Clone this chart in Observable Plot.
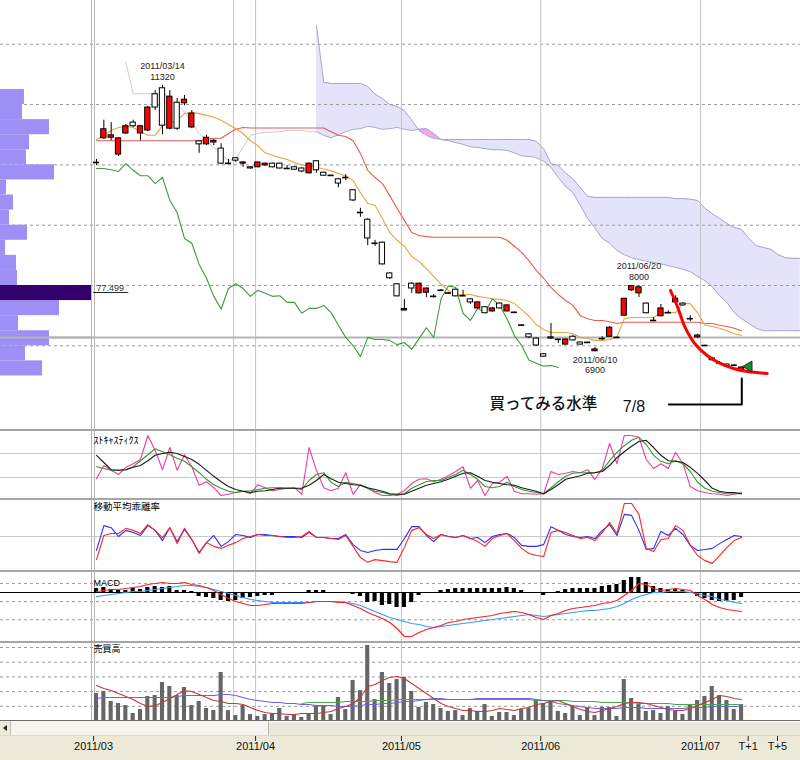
<!DOCTYPE html>
<html><head><meta charset="utf-8">
<script src="https://cdn.jsdelivr.net/npm/d3@7"></script>
<script src="https://cdn.jsdelivr.net/npm/@observablehq/plot@0.6"></script>
<style>
body{margin:0;background:#fff;}
#wrap{position:relative;width:800px;height:760px;overflow:hidden;background:#fff;}
.blk{position:absolute;left:0;}
</style></head><body><div id="wrap"></div>
<script>
// ---------- candles (daily, 2011/03/01 .. 2011/07/08) ----------
const opens = [10040,10440,10450,10170,10520,10700,10520,10570,11170,11270,
10600,11030,11020,10620,10390,10340,10370,10270,10030,10110,
10020,9960,9960,9990,10020,10020,9940,9960,9940,9860,
10060,9870,9830,9760,9790,9580,9210,9090,8700,8710,
8200,8020,7585,8030,7870,7880,7820,7920,7880,7930,
7830,7770,7620,7640,7570,7700,7570,7560,7345,7190,
7120,6860,7120,7110,7020,7150,7055,7058,6910,7120,
7150,7140,7500,7920,7870,7700,7420,7490,7550,7720,
7700,7450,7140,7005,6790,6720,6690,6680,6590];
const highs = [10090,10740,10700,10450,10670,10740,10650,10970,11230,11320,
11230,11100,11150,10900,10400,10490,10420,10350,10090,10120,
10050,9970,10050,10030,10030,10030,9990,9970,9950,10030,
10070,9880,9830,9770,9840,9590,9280,9110,8750,8720,
8210,8030,7770,8050,8040,7960,7850,7935,7885,7940,
7920,7785,7725,7645,7630,7710,7680,7560,7345,7200,
7130,6870,7370,7110,7110,7170,7060,7060,6970,7150,
7320,7145,7790,7995,8000,7710,7470,7685,7580,7830,
7715,7500,7190,7010,6810,6740,6700,6690,6650];
const lows = [9990,10420,10400,10140,10500,10620,10400,10550,10900,10500,
10580,10570,10980,10600,10190,10320,10320,10010,10020,10040,
9960,9930,9950,9980,9950,9930,9930,9910,9870,9850,
9860,9810,9810,9620,9740,9390,9130,8660,8650,8340,
8100,7810,7585,7870,7860,7800,7790,7900,7850,7810,
7830,7685,7610,7530,7560,7610,7560,7545,7330,7120,
6995,6810,7110,7040,7015,7080,7015,7050,6900,7095,
7140,7130,7495,7900,7800,7530,7400,7480,7530,7710,
7660,7400,7120,7000,6750,6700,6650,6670,6585];
const closes = [10040,10590,10490,10440,10640,10640,10640,10950,10950,10650,
11130,10600,11080,10850,10340,10450,10400,10020,10020,10070,
10040,9940,10040,10020,9960,9940,9940,9920,9890,10020,
9910,9820,9820,9690,9790,9410,9210,8780,8700,8350,
8120,7820,7610,7950,8030,7950,7820,7920,7870,7820,
7830,7720,7720,7540,7620,7620,7670,7550,7340,7140,
7005,6820,7140,7105,7105,7090,7020,7055,6940,7120,
7300,7138,7780,7990,7970,7540,7420,7620,7550,7780,
7670,7450,7170,7005,6760,6710,6660,6675,6640];

// ---------- ichimoku ----------
const tenkan = [10420,10490,10570,10620,10640,10620,10550,10490,10490,10650,
10690,10740,10850,10870,10850,10820,10790,10740,10670,10600,
10520,10400,10320,10200,10160,10120,10090,10040,10000,9980,
9960,9930,9900,9860,9810,9740,9540,9360,9330,9110,
8880,8750,8650,8480,8400,8280,8150,8020,7920,7850,
7850,7850,7820,7800,7780,7770,7750,7700,7600,7490,
7350,7270,7220,7220,7220,7200,7140,7120,7090,7090,
7100,7150,7450,7470,7470,7470,7470,7550,7550,7550,
7700,7700,7550,7340,7320,7290,7250,7200,7170];
const kijun = [10400,10400,10400,10400,10400,10400,10400,10400,10400,10400,
10400,10400,10400,10400,10400,10420,10440,10440,10520,10590,
10620,10610,10610,10610,10610,10610,10610,10610,10610,10610,
10610,10610,10550,10490,10470,10400,10190,9910,9790,9690,
9490,9280,9080,8880,8830,8810,8800,8800,8800,8800,
8800,8800,8800,8800,8800,8800,8750,8650,8550,8410,
8250,8120,7970,7850,7750,7670,7500,7450,7420,7420,
7400,7370,7390,7390,7390,7390,7390,7390,7390,7390,
7390,7390,7390,7370,7370,7340,7320,7290,7250];
// chikou span, index 0..63
const chikou = [9940,9940,9920,9890,10020,9910,9820,9820,9690,9790,
9410,9210,8780,8700,8350,8120,7820,7610,7950,8030,
7950,7820,7920,7870,7820,7830,7720,7720,7540,7620,
7620,7670,7550,7340,7140,7005,6820,7140,7105,7105,
7090,7020,7055,6940,7120,7300,7138,7780,7990,7970,
7540,7420,7620,7550,7780,7670,7450,7170,7005,6760,
6710,6660,6675,6640];
// senkou span A, index 4..96
const spanA = [11700,11180,11180,11180,11180,11180,11130,11000,10870,10700,
10520,10400,10290,10190,10070,10110,10290,10490,10520,10540,
10540,10550,10570,10570,10570,10550,
10550,10490,10450,10500,10550,10590,10600,10640,10620,10590,
10600,10620,10590,10570,10590,10600,10520,10420,10400,10370,
10340,10300,10290,10270,10250,10250,10240,10200,10150,10140,
10120,10060,9960,9790,9640,9540,9330,9110,8950,8780,
8700,8580,8510,8460,8430,8400,8380,8360,8330,8300,
8270,8230,8150,8080,7980,7830,7720,7550,7450,7370,
7290,7250,7250,7250,7250,7250,7250];
// senkou span B, index 30..96
const spanB = [12310,11370,11350,11350,11350,11350,11350,11300,11170,11100,
11000,10970,10900,10740,10570,10490,10440,10420,10420,10420,
10420,10420,10420,10420,10420,10420,10420,10420,10420,10420,
10390,10270,10020,9990,9860,9770,9620,9480,9460,9460,
9460,9460,9460,9460,9460,9460,9460,9460,9460,9440,
9440,9430,9410,9280,9190,9110,9030,8960,8930,8780,
8660,8630,8600,8510,8460,8450,8450];

// ---------- price-by-volume (left) ----------
const profileLow = [11000,10750,10500,10250,10000,9750,9500,9250,9000,8750,8500,8250,8000,7750,7500,7250,7000,6750,6500];
const profileVol = [20.4,18.7,41.7,24.7,22.1,46.0,5.1,11.1,7.7,23.0,4.3,13.6,14.5,77.499,50.2,15.3,41.7,21.3,35.8];
const profileBin = 250;

// ---------- stochastics ----------
const stochK = [28,50,42,35,47,53,60,100,75,43,
80,42,68,48,17,23,13,0,2,5,
7,3,18,13,8,10,12,13,2,80,
42,13,8,12,38,2,18,12,5,0,
0,2,8,20,27,28,23,27,33,40,
48,12,25,0,20,22,32,7,3,3,
2,3,40,35,37,40,38,43,27,45,
87,53,100,100,97,60,45,53,45,72,
53,15,8,5,3,2,0,2,5];
const stochD = [48,45,42,42,43,48,58,68,78,73,
68,62,57,48,38,27,18,12,7,5,
7,8,10,12,13,13,12,12,10,25,
35,38,22,15,22,20,17,12,7,5,
2,0,3,12,18,23,25,25,30,35,
42,35,27,15,13,15,22,15,10,7,
5,3,13,23,32,37,38,38,38,42,
58,72,83,92,97,85,67,57,53,58,
53,40,22,12,7,5,3,3,3];
const stochSD = [67,55,43,42,43,47,50,58,67,70,
72,70,65,60,52,42,32,23,15,10,
7,5,7,8,10,12,12,12,12,17,
25,35,28,22,20,18,17,13,10,7,
3,2,2,7,12,17,20,23,27,32,
37,38,32,25,22,20,18,17,13,10,
7,3,10,18,27,30,33,37,38,40,
50,63,73,82,90,92,80,67,58,57,
55,47,37,25,12,7,5,5,3];

// ---------- moving-average deviation (%) ----------
const devShort = [-4.1,3.2,2.6,0,1.8,1.2,0.3,3.2,1.8,-1.2,
2.6,-1.5,2.1,-0.9,-4.7,-1.8,0.3,-2.9,-1.5,0.6,
0.3,-0.3,0.6,0.6,0.3,0,0,0,-0.3,1.2,
-0.3,-0.3,-0.6,-0.6,0.6,-2.4,-4.1,-4.7,-4.1,-3.8,
-3.8,-3.8,-0.6,2.9,2.9,0.3,-1.5,0.6,0,-0.3,
0.3,-0.6,-0.3,-1.8,0,0.6,0.9,-0.3,-2.6,-2.9,
-2.9,-2.4,2.9,1.8,0.6,0,-0.3,0,-0.6,1.8,
3.5,0.3,6.5,6.2,1.8,-3.8,-3.5,1.5,0.3,2.4,
0.6,-2.6,-4.1,-3.8,-3.5,-2.1,-0.9,0.3,0];
const devLong = [-6.8,0.3,0.9,0.9,2.4,1.8,0.9,3.5,1.8,-0.3,
2.6,-2.1,2.4,-0.9,-5.0,-1.8,-2.9,-3.5,-2.6,-1.8,
-0.6,0,0.6,0.3,0.3,0,-0.3,-0.3,0,1.5,
-0.3,-0.3,-0.6,-0.9,0.3,-2.9,-6.2,-7.6,-6.8,-7.1,
-7.4,-7.6,-3.2,1.8,2.6,0.6,-0.6,0.6,0,-0.3,
0.3,-0.6,-1.5,-2.9,-0.6,0.3,0.9,-1.2,-3.5,-5.0,
-5.6,-5.9,1.2,1.8,1.2,0.3,-0.6,-0.3,-1.2,1.2,
4.1,0.9,9.7,9.7,6.5,-3.5,-4.4,-0.9,-0.6,3.2,
1.8,-2.6,-5.6,-7.1,-7.9,-5.6,-3.2,-1.2,-0.3];

// ---------- MACD ----------
const macdLine = [11,22,33,33,44,55,66,88,99,110,
99,99,110,88,77,55,22,-22,-66,-99,
-121,-143,-143,-132,-121,-121,-121,-121,-121,-110,
-99,-99,-99,-110,-110,-143,-176,-220,-253,-286,
-330,-396,-484,-484,-440,-407,-385,-363,-330,-319,
-297,-286,-275,-264,-253,-231,-220,-209,-220,-242,
-275,-297,-253,-231,-198,-176,-165,-154,-143,-121,
-110,-88,-33,22,99,88,44,22,33,44,
33,22,-33,-77,-132,-165,-187,-198,-209];
const macdSignal = [-44,-33,-22,-11,0,11,11,22,33,44,
55,66,77,77,66,55,33,11,-11,-33,
-55,-77,-88,-99,-110,-110,-110,-110,-110,-110,
-99,-99,-99,-99,-110,-121,-143,-176,-209,-242,
-275,-297,-319,-341,-352,-374,-385,-374,-363,-352,
-341,-330,-319,-308,-297,-286,-275,-264,-253,-242,
-253,-264,-253,-242,-231,-220,-209,-198,-198,-187,
-176,-154,-121,-77,-44,-22,0,0,11,11,
11,0,-11,-33,-44,-77,-88,-110,-121];
const macdHist = [44,55,33,22,22,44,33,55,66,55,
66,22,22,11,-44,-55,-66,-88,-99,-88,
-66,-55,-44,-33,-33,-11,0,0,0,22,
22,22,0,0,0,-22,-44,-110,-99,-143,
-132,-165,-165,-110,-33,-11,0,22,33,44,
44,44,44,44,44,44,55,44,22,0,
-11,-33,0,11,33,44,44,44,44,66,
77,88,132,165,165,110,66,44,33,33,
22,-11,-44,-66,-88,-99,-99,-88,-55];

// ---------- volume ----------
const volume = [18.7,20.1,13.3,11.9,10.5,5.1,7.8,16.7,17.3,26.2,
23.5,17.3,22.8,10.5,13.3,8.5,7.1,33.0,7.1,3.7,
10.5,4.4,3.1,4.4,5.1,8.5,3.1,4.4,2.4,5.1,
10.5,10.5,4.4,16.0,7.8,27.6,20.7,51.4,14.6,33.0,
25.5,28.2,29.6,20.1,9.2,12.6,11.2,8.5,6.5,7.1,
3.7,8.5,6.5,11.2,3.1,5.8,5.8,3.7,7.8,8.5,
14.6,11.9,13.9,6.5,5.1,9.8,3.7,9.2,3.7,9.2,
9.2,3.1,28.2,15.3,11.2,6.5,7.1,5.1,9.8,6.5,
4.4,11.2,13.9,16.7,23.5,17.3,13.9,7.8,11.2];
const volMAshort = [24.1,22.1,20.7,18.7,16.7,14.6,11.9,9.9,10.5,12.6,
15.3,18.0,20.7,20.1,18.0,16.0,13.9,13.3,11.9,11.9,
11.2,9.2,7.1,5.8,5.1,5.1,4.4,4.4,5.1,5.1,
5.1,5.8,6.5,8.5,9.9,11.9,16.0,23.5,24.8,27.6,
29.6,30.3,28.9,25.5,22.1,18.7,15.3,11.9,9.9,8.5,
7.1,7.1,6.5,6.5,7.1,8.5,7.8,7.1,8.5,9.2,
11.2,11.9,13.3,13.9,11.9,9.9,7.8,6.5,5.8,7.1,
8.5,9.9,11.9,12.6,12.6,11.9,10.5,9.2,7.8,7.1,
7.1,8.5,10.5,12.6,14.6,17.3,16.7,15.3,14.6];
const volMAmid = [15.3,16.0,16.0,16.0,16.0,16.0,16.0,16.0,16.0,16.0,
16.0,16.7,17.3,17.3,17.3,17.3,17.3,18.0,18.0,17.3,
16.0,14.6,13.9,13.3,12.6,12.6,11.9,11.9,11.2,11.2,
10.5,10.5,10.5,9.9,9.9,9.9,10.5,11.2,11.2,11.9,
11.9,12.6,13.3,13.3,13.9,14.6,15.3,15.3,14.6,14.6,
14.6,14.6,15.3,15.3,15.3,15.3,15.3,15.3,15.3,15.3,
14.6,13.9,13.3,11.9,11.2,10.5,9.9,9.2,8.5,8.5,
8.5,8.5,9.2,9.2,9.2,8.5,8.5,8.5,8.5,8.5,
8.5,9.2,9.2,9.2,9.9,9.9,9.9,9.9,9.9];
// long volume MA, index 28..88
const volMAlong = [11.9,12.6,12.6,12.6,12.6,12.6,13.3,13.3,13.3,13.3,
13.9,13.9,13.9,14.6,14.6,14.6,14.6,14.6,14.6,14.6,
14.6,14.6,14.6,14.6,14.6,14.6,14.6,14.6,14.6,14.6,
14.6,14.6,13.9,13.9,13.9,13.9,13.9,13.3,13.3,13.3,
13.3,12.6,12.6,12.6,12.6,12.6,11.9,11.9,11.9,11.9,
11.9,11.2,11.2,11.2,11.2,11.2,11.2,11.2,11.2,11.2,
11.2];

// ---------- axis / grid / annotations ----------
const tickPos = [-0.4, 21.7, 41.6, 60.6, 82.4, 88.9, 92.9];
const tickLabels = ["2011/03","2011/04","2011/05","2011/06","2011/07","T+1","T+5"];
const monthLines = [18.7, 21.7, 41.6, 60.6, 82.4];
const frameX = [-0.68, -0.27];
const priceGrid = [7000, 8000, 9000, 10000, 11000, 12000];
const lastPrice = 7138;
const highNotes = [
  {i: 9, p: 11320, date: "2011/03/14", label: "11320"},
  {i: 74, p: 8000, date: "2011/06/20", label: "8000"}
];
const lowNotes = [
  {i: 68, p: 6900, date: "2011/06/10", label: "6900"}
];
const drawnCurve = [[78.3,7917],[79.3,7635],[80.3,7304],[81.6,7038],[83.3,6839],[85.1,6707],[86.9,6624],[88.8,6574],[91.5,6541]];
const bracket = [[78.08,6027],[88.03,6027],[88.03,6458]];
const noteJa = [{i: 53.6, p: 6035, t: "買ってみる水準"}];
const noteDate = [{i: 71.8, p: 5994, t: "7/8"}];
const marker = [{i: 89.0, p: 6657}];
const profileLabel = [{i: 0.0, p: 7917, t: "77.499"}];
const profileUnderline = [{x1: -0.4, x2: 4.4, p: 7884}];

// ---------- build ----------
const xDom = [-13.1, 96.04];
const wrap = document.getElementById("wrap");
const baseStyle = {background: "transparent", overflow: "visible", fontFamily: "Liberation Sans, Arial, sans-serif"};
function place(el, top) { el.style.position = "absolute"; el.style.left = "0px"; el.style.top = top + "px"; wrap.appendChild(el); }
function box(top, left, w, h, css) { const d = document.createElement("div"); d.className = "blk"; d.style.top = top+"px"; d.style.left = left+"px"; d.style.width = w+"px"; d.style.height = h+"px"; Object.assign(d.style, css); wrap.appendChild(d); return d; }

const idx = closes.map((_, i) => i);
const candles = idx.map(i => ({i, o: opens[i], h: highs[i], l: lows[i], c: closes[i]}));
const bodies = candles.filter(d => Math.abs(d.c - d.o) >= 15);
const dojis = candles.filter(d => Math.abs(d.c - d.o) < 15);
const series = (arr, start = 0) => arr.map((v, k) => ({i: k + start, v}));
const cloud = spanB.map((b, k) => ({i: k + 30, a: spanA[k + 26], b}));
const preCloud = series(spanA.slice(0, 27), 4);
const vGrid = [
  Plot.ruleX(frameX, {stroke: "#b4b4b4"}),
  Plot.ruleX(monthLines, {stroke: "#c4c4c4"})
];
const annFont = {fontSize: 9, fill: "#222", fontFamily: "Liberation Sans, Arial, sans-serif"};

// main price panel
const PRICE_DOM = [5612.5, 12725];
const main = Plot.plot({
  width: 800, height: 429, margin: 0,
  x: {domain: xDom, axis: null}, y: {domain: PRICE_DOM, axis: null},
  style: baseStyle,
  marks: [
    Plot.areaY(cloud, {x: "i", y1: "a", y2: "b", fill: "#e3e3f9"}),
    Plot.areaY(cloud, {x: "i", y1: "b", y2: d => Math.max(d.a, d.b), fill: "#f7a4ee"}),
    Plot.line(cloud, {x: "i", y: "a", stroke: "#a4a4cf", strokeWidth: 1}),
    Plot.line(cloud, {x: "i", y: "b", stroke: "#a4a4cf", strokeWidth: 1}),
    Plot.ruleY(priceGrid, {stroke: "#9a9a9a", strokeDasharray: "3,3"}),
    ...vGrid,
    Plot.ruleY([lastPrice], {stroke: "#b4b4b4", strokeWidth: 2}),
    Plot.line(preCloud, {x: "i", y: "v", stroke: "#cccccc", strokeWidth: 1}),
    Plot.line(series(kijun), {x: "i", y: "v", stroke: "#e65a52", strokeWidth: 1.1}),
    Plot.line(series(tenkan), {x: "i", y: "v", stroke: "#eba43c", strokeWidth: 1.1}),
    Plot.line(series(chikou), {x: "i", y: "v", stroke: "#3e9a3e", strokeWidth: 1.1}),
    Plot.ruleX(candles, {x: "i", y1: "l", y2: "h", stroke: "#000", strokeWidth: 1}),
    Plot.rect(bodies.filter(d => d.c > d.o), {x1: d => d.i - 0.36, x2: d => d.i + 0.36, y1: "o", y2: "c", fill: "#ff0000", stroke: "#000", strokeWidth: 1}),
    Plot.rect(bodies.filter(d => d.c <= d.o), {x1: d => d.i - 0.36, x2: d => d.i + 0.36, y1: "o", y2: "c", fill: "#ffffff", stroke: "#000", strokeWidth: 1}),
    Plot.ruleY(dojis, {y: d => (d.o + d.c) / 2, x1: d => d.i - 0.42, x2: d => d.i + 0.42, stroke: "#000", strokeWidth: 1.6}),
    Plot.text(highNotes, {x: "i", y: "p", text: "date", dy: -19, ...annFont}),
    Plot.text(highNotes, {x: "i", y: "p", text: "label", dy: -8, ...annFont}),
    Plot.text(lowNotes, {x: "i", y: "p", text: "date", dy: 8, ...annFont}),
    Plot.text(lowNotes, {x: "i", y: "p", text: "label", dy: 18, ...annFont}),
    Plot.text(profileLabel, {x: "i", y: "p", text: "t", textAnchor: "start", lineAnchor: "bottom", fontSize: 9, fill: "#333"}),
    Plot.ruleY(profileUnderline, {y: "p", x1: "x1", x2: "x2", stroke: "#222", strokeWidth: 1}),
    Plot.line(drawnCurve, {x: d => d[0], y: d => d[1], stroke: "#ff0000", strokeWidth: 3, curve: "catmull-rom"}),
    Plot.line(bracket, {x: d => d[0], y: d => d[1], stroke: "#000", strokeWidth: 2}),
    Plot.dot(marker, {x: "i", y: "p", symbol: "triangle", r: 4, rotate: -90, fill: "#1e8c2a", stroke: "#0b3d10", strokeWidth: 1}),
    Plot.text(noteJa, {x: "i", y: "p", text: "t", textAnchor: "start", fontSize: 15.5, fontFamily: "Noto Sans CJK JP", fontWeight: 500, fill: "#111"}),
    Plot.text(noteDate, {x: "i", y: "p", text: "t", textAnchor: "start", fontSize: 16, fontFamily: "Liberation Sans", fill: "#111"})
  ]
});
place(main, 0);

// price-by-volume bars on the left
const profile = profileLow.map((lo, k) => ({lo, hi: lo + profileBin, v: profileVol[k]}));
const maxV = Math.max(...profileVol);
const prof = Plot.plot({
  width: 92, height: 429, margin: 0, marginRight: 1,
  x: {domain: [0, maxV], axis: null}, y: {domain: PRICE_DOM, axis: null},
  style: baseStyle,
  marks: [
    Plot.rect(profile.filter(d => d.v < maxV), {x1: 0, x2: "v", y1: "lo", y2: "hi", fill: "#9d8ff5"}),
    Plot.rect(profile.filter(d => d.v === maxV), {x1: 0, x2: "v", y1: "lo", y2: "hi", fill: "#34006c"}),
    Plot.ruleY([lastPrice], {stroke: "#b4b4b4", strokeWidth: 2})
  ]
});
place(prof, 0);

function label(t, dy, font, size) {
  return Plot.text([t], {text: d => d, frameAnchor: "top-left", dx: 93, dy, textAnchor: "start", lineAnchor: "top", fontSize: size, fontFamily: font, fill: "#000"});
}

// stochastics
const stoch = Plot.plot({
  width: 800, height: 67, margin: 0,
  x: {domain: xDom, axis: null}, y: {domain: [-5, 106.67], axis: null},
  style: baseStyle,
  marks: [
    Plot.ruleY([30, 70], {stroke: "#c8c8c8"}),
    ...vGrid,
    Plot.line(series(stochK), {x: "i", y: "v", stroke: "#ec3f9b", strokeWidth: 1.1}),
    Plot.line(series(stochD), {x: "i", y: "v", stroke: "#2f9a2f", strokeWidth: 1.1}),
    Plot.line(series(stochSD), {x: "i", y: "v", stroke: "#1a1a1a", strokeWidth: 1.1}),
    label("ｽﾄｷｬｽﾃｨｸｽ", 5, "Noto Sans CJK JP", 10)
  ]
});
place(stoch, 431);

// deviation
const dev = Plot.plot({
  width: 800, height: 71, margin: 0,
  x: {domain: xDom, axis: null}, y: {domain: [-10.294, 10.588], axis: null},
  style: baseStyle,
  marks: [
    Plot.ruleY([0], {stroke: "#c8c8c8"}),
    ...vGrid,
    Plot.line(series(devShort), {x: "i", y: "v", stroke: "#2b2bff", strokeWidth: 1.1}),
    Plot.line(series(devLong), {x: "i", y: "v", stroke: "#ff2424", strokeWidth: 1.1}),
    label("移動平均乖離率", 3, "Noto Sans CJK JP", 9.5)
  ]
});
place(dev, 500);

// MACD
const macd = Plot.plot({
  width: 800, height: 70, margin: 0,
  x: {domain: xDom, axis: null}, y: {domain: [-550, 220], axis: null},
  style: baseStyle,
  marks: [
    Plot.ruleY([100, -100, -300], {stroke: "#9a9a9a", strokeDasharray: "3,3"}),
    ...vGrid,
    Plot.rect(series(macdHist).filter(d => d.v !== 0), {x1: d => d.i - 0.28, x2: d => d.i + 0.28, y1: 0, y2: "v", fill: "#000"}),
    Plot.ruleY([0], {stroke: "#000", strokeWidth: 1.2}),
    Plot.line(series(macdSignal), {x: "i", y: "v", stroke: "#3399ff", strokeWidth: 1.2}),
    Plot.line(series(macdLine), {x: "i", y: "v", stroke: "#ff2020", strokeWidth: 1.2}),
    label("MACD", 7, "Liberation Sans", 9)
  ]
});
place(macd, 572);

// volume
const vol = Plot.plot({
  width: 800, height: 78, margin: 0,
  x: {domain: xDom, axis: null}, y: {domain: [-0.34, 52.72], axis: null},
  style: baseStyle,
  marks: [
    Plot.ruleY([10, 20, 30, 40, 50], {stroke: "#9a9a9a", strokeDasharray: "3,3"}),
    ...vGrid,
    Plot.rect(series(volume), {x1: d => d.i - 0.28, x2: d => d.i + 0.28, y1: 0, y2: "v", fill: "#666666"}),
    Plot.line(series(volMAlong, 28), {x: "i", y: "v", stroke: "#4aa84a", strokeWidth: 1.1}),
    Plot.line(series(volMAmid), {x: "i", y: "v", stroke: "#6b63e0", strokeWidth: 1.1}),
    Plot.line(series(volMAshort), {x: "i", y: "v", stroke: "#c23a36", strokeWidth: 1.1}),
    label("売買高", 2, "Noto Sans CJK JP", 9)
  ]
});
place(vol, 643);

// panel separators
[429, 498, 570, 641].forEach(t => box(t, 0, 800, 2, {background: "#a6a6a6"}));
box(720, 0, 800, 1, {background: "#6e6e6e"});

// bottom window chrome: scrollbar + axis strip
box(721, 0, 800, 39, {background: "#ece9d8"});
box(721, 0, 800, 14, {background: "#f5f4ef"});
box(721, 268, 532, 14, {background: "#ebe9de", borderLeft: "1px solid #b9b6a8", borderTop: "1px solid #fbfbf8", boxSizing: "border-box"});
box(721, 0, 11, 14, {background: "#ece9d8", borderRight: "1px solid #c5c2b2", boxSizing: "border-box"});
box(725, 3, 0, 0, {borderTop: "3px solid transparent", borderBottom: "3px solid transparent", borderRight: "4px solid #222"});
box(735, 0, 800, 1, {background: "#dedbcb"});

const labelOf = new Map(tickPos.map((p, k) => [p, tickLabels[k]]));
const axis = Plot.plot({
  width: 800, height: 25, marginTop: 0, marginBottom: 24, marginLeft: 0, marginRight: 0,
  x: {domain: xDom},
  style: {...baseStyle, fontSize: "11px", color: "#222"},
  marks: [
    Plot.axisX(tickPos, {anchor: "bottom", tickSize: 5, tickPadding: 1, tickFormat: d => labelOf.get(d), fontSize: 11, fill: "#111"})
  ]
});
place(axis, 735);
</script></body></html>
